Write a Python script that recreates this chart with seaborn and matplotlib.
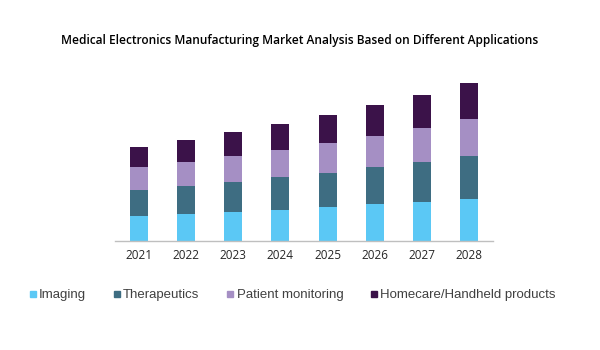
import pandas as pd
import numpy as np
import matplotlib.pyplot as plt
import seaborn as sns
from matplotlib.lines import Line2D

sns.set_theme(style="white")
plt.rcParams['font.family'] = ['Open Sans', 'DejaVu Sans']

years = ["2021", "2022", "2023", "2024", "2025", "2026", "2027", "2028"]
imaging = [25, 27, 29, 31, 34, 37, 39, 42]
therapeutics = [26, 28, 30, 33, 34, 37, 40, 43]
patient_monitoring = [23, 24, 26, 27, 30, 31, 34, 37]
homecare = [20, 22, 24, 26, 28, 31, 33, 36]

segments = ["Imaging", "Therapeutics", "Patient monitoring", "Homecare/Handheld products"]
colors = ["#5bc8f5", "#3e6d82", "#a58fc4", "#3b1249"]

df = pd.DataFrame({
    "Year": years,
    "Imaging": imaging,
    "Therapeutics": therapeutics,
    "Patient monitoring": patient_monitoring,
    "Homecare/Handheld products": homecare,
})

# cumulative totals so the stack can be drawn from the top down
cum = df[segments].cumsum(axis=1)

fig = plt.figure(figsize=(6, 3.5), dpi=100)
ax = fig.add_axes([0.1917, 0.3114, 0.63, 0.457])

for seg, col in reversed(list(zip(segments, colors))):
    sns.barplot(x=df["Year"], y=cum[seg], color=col, width=0.38,
                saturation=1, linewidth=0, edgecolor="none", ax=ax, zorder=2)

ax.set_ylim(0, 160)
ax.set_xlim(-0.5, 7.5)
ax.set_xlabel("")
ax.set_ylabel("")
ax.set_yticks([])
for s in ["top", "right", "left"]:
    ax.spines[s].set_visible(False)
ax.spines["bottom"].set_color("#bfbfbf")
ax.spines["bottom"].set_linewidth(1)
ax.tick_params(axis="x", length=0, pad=6, labelsize=8.5, labelcolor="#262626")

fig.text(0.5, 0.883, "Medical Electronics Manufacturing Market Analysis Based on Different Applications",
         ha="center", va="center", fontsize=8.6, fontweight="semibold", color="black")

handles = [Line2D([0], [0], marker="s", linestyle="", markersize=4.3,
                  markerfacecolor=c, markeredgecolor=c) for c in colors]
fig.legend(handles, segments, loc="center", bbox_to_anchor=(0.4875, 0.157), ncol=4,
           frameon=False, handlelength=0.5, handletextpad=0.25, columnspacing=2.05,
           prop={"family": "Liberation Sans", "size": 9.5}, labelcolor="#404040")

fig.savefig("out.png", dpi=100)
